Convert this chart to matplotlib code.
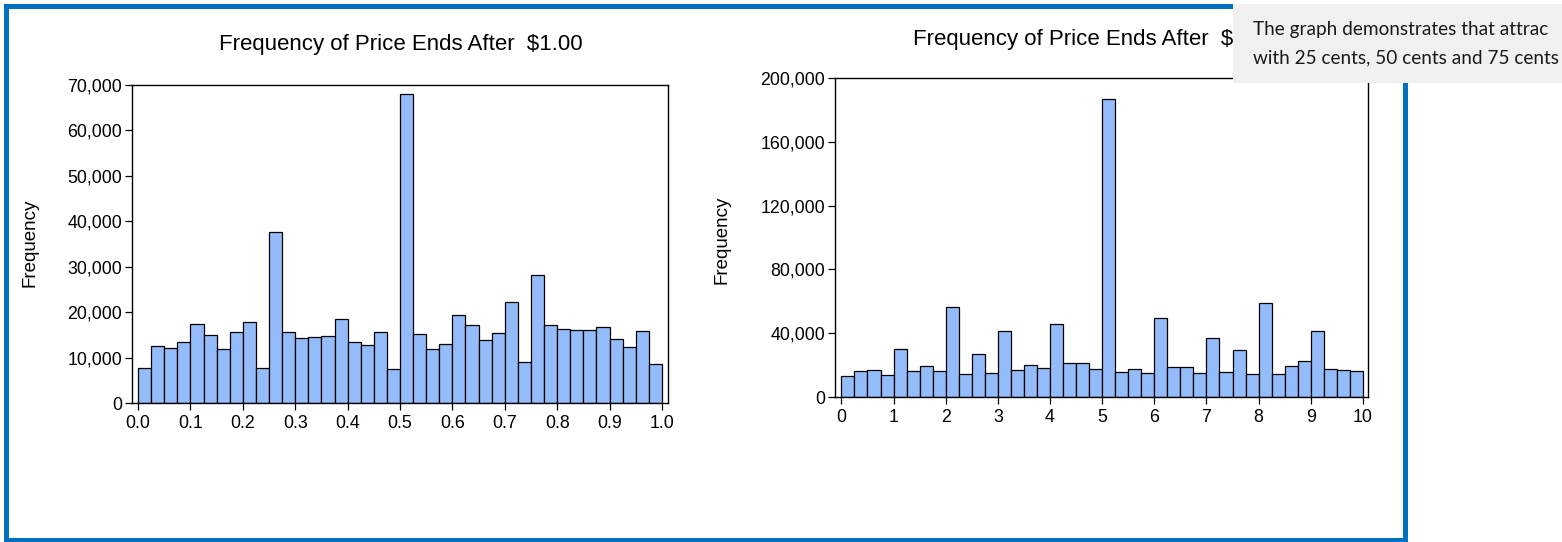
import matplotlib
matplotlib.use("Agg")
import matplotlib.pyplot as plt
import numpy as np
from matplotlib.patches import Rectangle
from matplotlib.ticker import FuncFormatter

# ---- data ----
left_freq = [7600, 12640, 12050, 13370, 17390, 14970, 11900, 15560, 17750, 7670,
             37550, 15560, 14240, 14540, 14750, 18480, 13510, 12860, 15560, 7520,
             68000, 15120, 11980, 13080, 19280, 17170, 13880, 15340, 22280, 8980,
             28200, 17170, 16220, 16070, 16140, 16730, 14020, 12340, 15850, 8690]
right_freq = [12980, 16330, 17170, 13610, 30370, 16540, 19480, 16540, 56540, 14240,
              27230, 14870, 41260, 17170, 20100, 18430, 45860, 21570, 21150, 17380,
              187000, 15500, 17800, 15080, 49420, 18640, 18850, 14870, 36860, 15500,
              29740, 14660, 58850, 14240, 19480, 22410, 41470, 17800, 17170, 16330]
left_bin_width = 0.025
right_bin_width = 0.25
left_xticks = [0.0, 0.1, 0.2, 0.3, 0.4, 0.5, 0.6, 0.7, 0.8, 0.9, 1.0]
left_yticks = [0, 10000, 20000, 30000, 40000, 50000, 60000, 70000]
right_xticks = [0, 1, 2, 3, 4, 5, 6, 7, 8, 9, 10]
right_yticks = [0, 40000, 80000, 120000, 160000, 200000]
left_title = "Frequency of Price Ends After  $1.00"
right_title = "Frequency of Price Ends After  $10.00"
note_lines = ["The graph demonstrates that attrac",
              "with 25 cents, 50 cents and 75 cents"]

W, H = 1562, 542
plt.rcParams['font.family'] = ['Liberation Sans', 'DejaVu Sans']
fig = plt.figure(figsize=(W / 100, H / 100), dpi=100)
fig.patch.set_facecolor('white')

BAR = '#94BCFA'

def px_axes(x0, x1, ytop, ybot):
    return fig.add_axes([x0 / W, (H - ybot) / H, (x1 - x0) / W, (ybot - ytop) / H])

def style(ax):
    for s in ax.spines.values():
        s.set_linewidth(1.0)
        s.set_color('black')
    ax.tick_params(direction='out', length=5, width=0.9, labelsize=12.8, colors='black')
    ax.tick_params(axis='x', pad=3.5)
    ax.tick_params(axis='y', pad=2)
    ax.yaxis.set_major_formatter(FuncFormatter(lambda v, p: f"{int(v):,}"))

# left chart
axL = px_axes(132, 668, 85, 403)
n = len(left_freq)
edgesL = np.arange(n) * left_bin_width
axL.bar(edgesL, left_freq, width=left_bin_width, align='edge', color=BAR,
        edgecolor='black', linewidth=0.9)
axL.set_xlim(-0.0115, 1.0115)
axL.set_ylim(0, 70000)
axL.set_xticks(left_xticks)
axL.set_xticklabels([f"{v:.1f}" for v in left_xticks])
axL.set_yticks(left_yticks)
style(axL)

# right chart
axR = px_axes(835, 1368, 78, 397)
m = len(right_freq)
edgesR = np.arange(m) * right_bin_width
axR.bar(edgesR, right_freq, width=right_bin_width, align='edge', color=BAR,
        edgecolor='black', linewidth=0.9)
axR.set_xlim(-0.123, 10.098)
axR.set_ylim(0, 200000)
axR.set_xticks(right_xticks)
axR.set_yticks(right_yticks)
style(axR)

# titles and labels
fig.text(401 / W, 1 - 50 / H, left_title, ha='center', va='baseline', fontsize=16)
fig.text(1101 / W, 1 - 45 / H, right_title, ha='center', va='baseline', fontsize=16)
fig.text(30 / W, 1 - 243 / H, "Frequency", rotation=90, ha='center', va='center', fontsize=13.5)
fig.text(722 / W, 1 - 240 / H, "Frequency", rotation=90, ha='center', va='center', fontsize=13.5)

# blue frame
fig.patches.append(Rectangle((5.5 / W, 1 - 539.5 / H), 1399.5 / W, 534 / H,
                             transform=fig.transFigure, fill=False,
                             edgecolor='#0070C0', linewidth=3.6, zorder=5))

# tooltip box
fig.patches.append(Rectangle((1233 / W, 1 - 83 / H), (W - 1233) / W, 79 / H,
                             transform=fig.transFigure, facecolor='#F0F0F0',
                             edgecolor='none', zorder=10))
fig.text(1253 / W, 1 - 35 / H, note_lines[0], ha='left', va='baseline', fontsize=13.7,
         color='#1a1a1a', family=['Lato', 'DejaVu Sans'], zorder=11)
fig.text(1253 / W, 1 - 63 / H, note_lines[1], ha='left', va='baseline', fontsize=13.7,
         color='#1a1a1a', family=['Lato', 'DejaVu Sans'], zorder=11)

fig.savefig('out.png', dpi=100)
